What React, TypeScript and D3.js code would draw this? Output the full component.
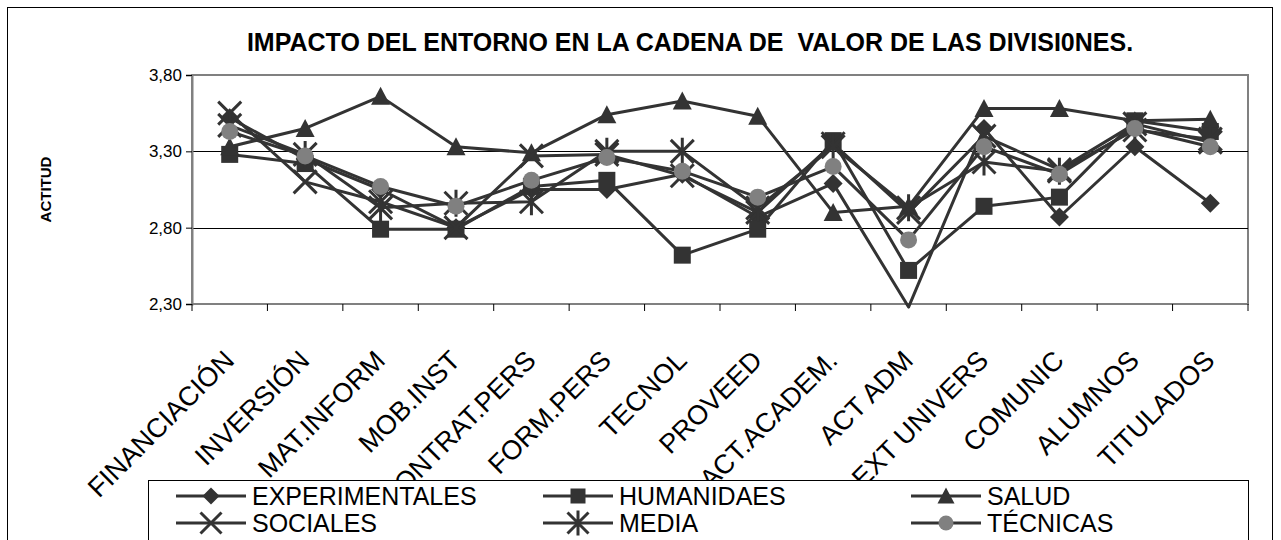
import React, { useEffect, useRef } from 'react';
import * as d3 from 'd3';

const categories = [
  'FINANCIACIÓN', 'INVERSIÓN', 'MAT.INFORM', 'MOB.INST', 'CONTRAT.PERS', 'FORM.PERS', 'TECNOL',
  'PROVEED', 'ACT.ACADEM.', 'ACT ADM', 'EXT UNIVERS', 'COMUNIC', 'ALUMNOS', 'TITULADOS'
];

const experimentales = [3.52, 3.25, 3.05, 2.80, 3.05, 3.05, 3.15, 2.87, 3.09, 2.28, 3.45, 2.87, 3.33, 2.96];
const humanidaes = [3.28, 3.22, 2.79, 2.79, 3.07, 3.11, 2.62, 2.79, 3.37, 2.52, 2.94, 3.00, 3.50, 3.43];
const salud = [3.33, 3.45, 3.66, 3.33, 3.29, 3.54, 3.63, 3.53, 2.90, 2.94, 3.58, 3.58, 3.50, 3.51];
const sociales = [3.55, 3.10, 2.97, 2.80, 3.27, 3.28, 3.14, 2.90, 3.35, 2.90, 3.40, 3.18, 3.48, 3.36];
const media = [3.47, 3.28, 2.93, 2.96, 2.97, 3.30, 3.30, 2.93, 3.33, 2.93, 3.23, 3.17, 3.44, 3.38];
const tecnicas = [3.43, 3.27, 3.07, 2.94, 3.11, 3.26, 3.17, 3.00, 3.20, 2.72, 3.33, 3.15, 3.45, 3.33];

const yTicks = [2.3, 2.8, 3.3, 3.8];

type Marker = 'diamond' | 'square' | 'triangle' | 'x' | 'star' | 'circle';

const series: Array<{ name: string, values: number[], marker: Marker }> = [
  { name: 'EXPERIMENTALES', values: experimentales, marker: 'diamond' },
  { name: 'HUMANIDAES', values: humanidaes, marker: 'square' },
  { name: 'SALUD', values: salud, marker: 'triangle' },
  { name: 'SOCIALES', values: sociales, marker: 'x' },
  { name: 'MEDIA', values: media, marker: 'star' },
  { name: 'TÉCNICAS', values: tecnicas, marker: 'circle' },
];

const DARK = '#333333';
const FONT = 'Arial, "Liberation Sans", sans-serif';

// draws one marker centred on 0,0 into g
function drawMarker(g: d3.Selection<SVGGElement, unknown, null, undefined>, kind: Marker, s: number) {
  const h = s / 2;
  if (kind === 'diamond') {
    g.append('path').attr('d', `M0,${-h - 1}L${h + 1},0L0,${h + 1}L${-h - 1},0Z`).attr('fill', DARK);
  } else if (kind === 'square') {
    g.append('rect').attr('x', -h).attr('y', -h).attr('width', s).attr('height', s).attr('fill', DARK);
  } else if (kind === 'triangle') {
    g.append('path').attr('d', `M0,${-h - 1}L${h + 1},${h}L${-h - 1},${h}Z`).attr('fill', DARK);
  } else if (kind === 'circle') {
    g.append('circle').attr('r', h).attr('fill', '#808080');
  } else {
    const k = h + 3;
    g.append('path')
      .attr('d', `M${-k},${-k}L${k},${k}M${-k},${k}L${k},${-k}` + (kind === 'star' ? `M0,${-k - 2}L0,${k + 2}` : ''))
      .attr('stroke', DARK).attr('stroke-width', 3).attr('fill', 'none');
  }
}

const App: React.FC = () => {
  const ref = useRef<SVGSVGElement | null>(null);

  useEffect(() => {
    const svg = d3.select(ref.current);
    svg.selectAll('*').remove();

    const plot = { left: 192, right: 1248, top: 75, bottom: 304 };

    const x = d3.scaleBand().domain(categories).range([plot.left, plot.right]);
    const y = d3.scaleLinear().domain([2.3, 3.8]).range([plot.bottom, plot.top]);
    const cx = (c: string) => (x(c) as number) + x.bandwidth() / 2;

    // outer frame
    svg.append('rect')
      .attr('x', 7.5).attr('y', 7.5).attr('width', 1265).attr('height', 560)
      .attr('fill', '#fff').attr('stroke', '#000').attr('stroke-width', 1);

    // title
    svg.append('text')
      .attr('x', 690).attr('y', 51)
      .attr('text-anchor', 'middle')
      .attr('font-family', FONT).attr('font-weight', 'bold').attr('font-size', 25)
      .style('white-space', 'pre')
      .text('IMPACTO DEL ENTORNO EN LA CADENA DE  VALOR DE LAS DIVISI0NES.');

    // y title
    svg.append('text')
      .attr('transform', `translate(51,${(plot.top + plot.bottom) / 2}) rotate(-90)`)
      .attr('text-anchor', 'middle')
      .attr('font-family', FONT).attr('font-weight', 'bold').attr('font-size', 15)
      .text('ACTITUD');

    // plot border
    svg.append('rect')
      .attr('x', plot.left).attr('y', plot.top)
      .attr('width', plot.right - plot.left).attr('height', plot.bottom - plot.top)
      .attr('fill', 'none').attr('stroke', '#808080').attr('stroke-width', 2);

    // gridlines
    svg.append('g').selectAll('line')
      .data(yTicks.slice(1, 3))
      .enter().append('line')
      .attr('x1', plot.left).attr('x2', plot.right)
      .attr('y1', d => Math.round(y(d)) + 0.5).attr('y2', d => Math.round(y(d)) + 0.5)
      .attr('stroke', '#000').attr('stroke-width', 1);

    // y axis
    const yAxis = svg.append('g')
      .attr('transform', `translate(${plot.left},0)`)
      .call(d3.axisLeft(y).tickValues(yTicks).tickSize(6).tickPadding(4)
        .tickFormat(d => d3.format('.2f')(d as number).replace('.', ',')));
    yAxis.select('.domain').attr('stroke', '#808080').attr('stroke-width', 2);
    yAxis.selectAll('.tick line').attr('stroke', '#000');
    yAxis.selectAll('text').attr('font-family', FONT).attr('font-size', 17).attr('fill', '#000');

    // x axis ticks at category boundaries
    svg.append('line')
      .attr('x1', plot.left).attr('x2', plot.right)
      .attr('y1', plot.bottom).attr('y2', plot.bottom)
      .attr('stroke', '#808080').attr('stroke-width', 2);
    svg.append('g').selectAll('line')
      .data(categories.concat(['end']))
      .enter().append('line')
      .attr('x1', (d, i) => plot.left + i * x.step()).attr('x2', (d, i) => plot.left + i * x.step())
      .attr('y1', plot.bottom).attr('y2', plot.bottom + 7)
      .attr('stroke', '#000');

    // x labels
    svg.append('g').selectAll('text')
      .data(categories)
      .enter().append('text')
      .attr('transform', d => `translate(${cx(d) + 6},${plot.bottom + 58}) rotate(-45)`)
      .attr('text-anchor', 'end')
      .attr('font-family', FONT).attr('font-size', 27)
      .text(d => d);

    // series
    const line = d3.line<number>()
      .x((d, i) => cx(categories[i]))
      .y(d => y(d));

    series.forEach(s => {
      svg.append('path')
        .datum(s.values)
        .attr('fill', 'none')
        .attr('stroke', DARK)
        .attr('stroke-width', 3)
        .attr('stroke-linejoin', 'round')
        .attr('d', line);
      s.values.forEach((v, i) => {
        if (v < 2.3) return;
        const g = svg.append('g').attr('transform', `translate(${cx(categories[i])},${y(v)})`);
        drawMarker(g, s.marker, 17);
      });
    });

    // legend
    const legend = svg.append('g');
    legend.append('rect')
      .attr('x', 148.5).attr('y', 480.5).attr('width', 1100).attr('height', 100)
      .attr('fill', '#fff').attr('stroke', '#000').attr('stroke-width', 1);
    const colX = [176, 543, 911];
    const rowY = [496, 523];
    series.forEach((s, i) => {
      const lx = colX[i % 3];
      const ly = rowY[Math.floor(i / 3)];
      legend.append('line')
        .attr('x1', lx).attr('x2', lx + 70).attr('y1', ly).attr('y2', ly)
        .attr('stroke', DARK).attr('stroke-width', 3);
      const g = legend.append('g').attr('transform', `translate(${lx + 35},${ly})`);
      drawMarker(g, s.marker, 15);
      legend.append('text')
        .attr('x', lx + 76).attr('y', ly + 9)
        .attr('font-family', FONT).attr('font-size', 25)
        .text(s.name);
    });
  }, []);

  return (
    <svg ref={ref} width={1281} height={540}
      style={{ position: 'absolute', left: 0, top: 0, background: '#fff' }} />
  );
};

export default App;
